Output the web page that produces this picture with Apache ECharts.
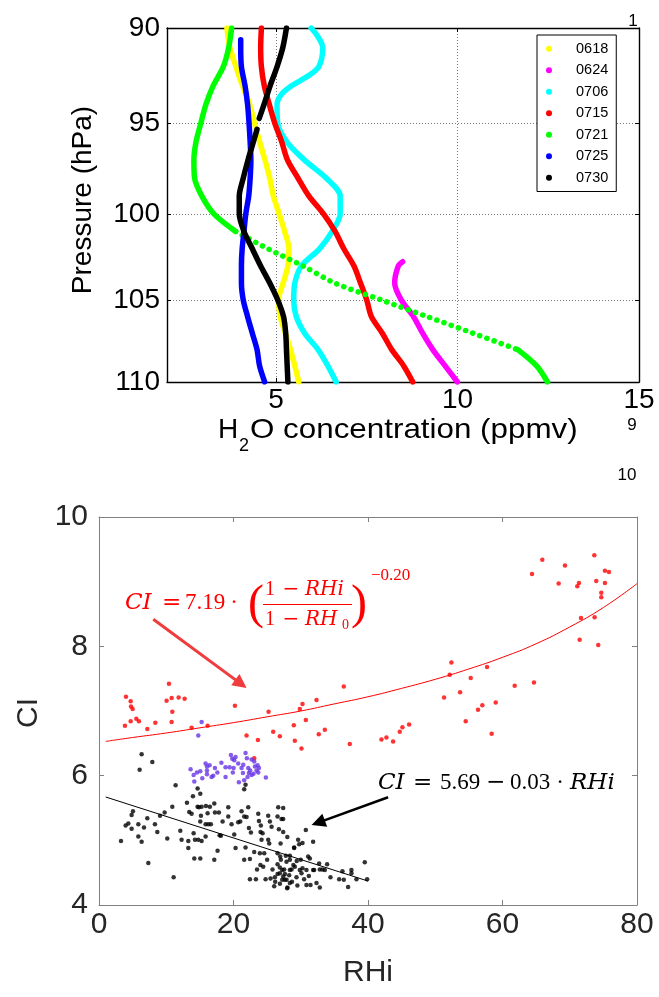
<!DOCTYPE html>
<html><head><meta charset="utf-8">
<script src="https://cdn.jsdelivr.net/npm/echarts@6/dist/echarts.min.js"></script>
<style>html,body{margin:0;padding:0;background:#fff}#c{width:659px;height:997px}</style>
</head><body><div id="c"></div>
<script>
// ---------------- DATA (top panel: H2O profiles, [ppmv, hPa]) ----------------
const profileNames = ['0618','0624','0706','0715','0721','0725','0730'];
const h2o0618 = [[3.65,90],[3.73,91],[3.90,92],[4.08,93],[4.28,94],[4.41,95],[4.55,96],[4.70,97],[4.83,98],[4.93,99],[5.09,100],[5.24,101],[5.36,102],[5.33,103],[5.20,104],[5.07,105],[5.12,106],[5.26,107],[5.40,108],[5.52,109],[5.63,110]];
const h2o0624 = [[8.49,102.75],[8.37,103],[8.27,104],[8.45,105],[8.79,106],[9.04,107],[9.32,108],[9.66,109],[10.00,110]];
const h2o0706 = [[5.97,90],[6.16,90.45],[6.29,91],[6.18,92],[5.87,92.5],[5.43,93],[5.13,93.5],[5.03,94],[5.05,95],[5.30,96],[5.79,97],[6.39,98],[6.77,99],[6.77,100],[6.55,101],[6.20,102],[5.70,103],[5.52,104],[5.49,105],[5.56,106],[5.79,107],[6.16,108],[6.43,109],[6.66,110]];
const h2o0715 = [[4.60,90],[4.58,91],[4.60,92],[4.68,93],[4.82,94],[4.97,95],[5.16,96],[5.32,97],[5.61,98],[5.91,99],[6.31,100],[6.63,101],[6.87,102],[7.15,103],[7.33,104],[7.50,105],[7.63,106],[7.93,107],[8.19,108],[8.52,109],[8.77,110]];
const h2o0721 = [[3.78,90],[3.70,91],[3.55,92],[3.27,93],[3.07,94],[2.93,95],[2.80,96],[2.74,97],[2.76,98],[2.96,99],[3.29,100],[3.89,101],[4.78,102],[5.75,103],[6.62,104],[7.90,105],[9.17,106],[10.43,107],[11.66,108],[12.18,109],[12.48,110]];
const h2o0725 = [[4.03,90.6],[4.03,91],[4.05,92],[4.15,93],[4.22,94],[4.26,95],[4.29,96],[4.31,97],[4.29,98],[4.25,99],[4.17,100],[4.12,101],[4.07,102],[4.05,103],[4.05,104],[4.10,105],[4.22,106],[4.35,107],[4.48,108],[4.55,109],[4.69,110]];
const h2o0730Upper = [[5.29,90],[5.19,91],[5.03,92],[4.84,93],[4.67,94],[4.54,94.73]];
const h2o0730Lower = [[4.48,95.32],[4.38,96],[4.23,97],[4.10,98],[3.99,99],[3.99,100],[4.12,101],[4.35,102],[4.58,103],[4.83,104],[5.05,105],[5.21,106],[5.27,107],[5.29,108],[5.31,109],[5.33,110]];
const pressureTicks = [90,95,100,105,110];
const concTicks = [5,10,15];

// ---------------- DATA (bottom panel: CI vs RHi) ----------------
const ciHigh = [[4.01,7.22],[4.71,7.15],[4.76,7.07],[5.00,7.03],[4.71,6.84],[5.55,6.88],[5.94,6.84],[3.86,6.77],[7.18,6.72],[8.37,6.82],[10.40,7.42],[10.05,7.16],[10.80,7.20],[11.84,7.21],[12.73,7.19],[10.90,6.99],[10.80,6.83],[13.77,6.74],[16.15,6.77],[20.21,7.08],[21.94,6.62],[23.63,6.55],[25.21,6.99],[25.90,6.68],[26.89,6.61],[23.08,6.27],
 [29.12,6.54],[28.97,6.78],[29.86,7.03],[30.26,7.11],[30.75,6.86],[30.11,6.42],[32.34,7.17],[32.68,6.64],[33.58,6.71],[36.40,7.38],[37.29,6.49],[42.00,6.56],[42.74,6.59],[43.73,6.53],[44.72,6.68],[45.12,6.75],[46.11,6.79],[51.31,7.21],[52.15,7.56],[52.40,7.75],[53.69,7.29],[54.53,6.84],[55.27,7.51],[56.36,7.02],
 [57.00,7.09],[57.70,7.68],[58.39,6.65],[58.99,7.13],[61.81,7.39],[64.68,7.44],[64.39,9.12],[65.92,9.34],[68.35,8.97],[69.29,9.25],[71.12,8.93],[71.37,8.98],[71.67,8.44],[71.47,8.10],[73.65,9.41],[73.94,9.01],[73.70,8.45],[74.24,8.02],[75.23,9.17],[75.83,9.15],[75.23,8.98],[74.69,8.83],[74.69,8.76]];
const ciMid = [[15.26,6.83],[14.76,6.62],[13.62,6.10],[14.07,6.01],[14.17,5.91],[14.56,6.05],[15.06,6.07],[15.85,6.19],[16.05,6.14],[16.44,6.16],[16.05,6.08],[16.05,6.02],[15.36,5.96],[16.99,6.00],[17.24,6.12],[16.74,5.98],[18.82,5.98],[18.82,6.13],[19.42,6.13],[19.61,6.32],[19.81,6.26],[20.11,6.24],[20.31,6.29],[20.70,6.19],[20.01,6.12],[21.20,6.12],[20.80,5.90],[21.59,5.93],[21.40,6.04],[21.79,6.35],[21.99,6.27],[22.19,6.12],[22.29,6.04],[22.69,6.25],[22.49,6.08],[22.98,6.03],[23.18,6.14],[23.43,6.08],[23.58,6.16],[23.78,6.12],[23.68,6.05],[22.69,6.01],[24.81,5.97],[22.09,5.98],[21.45,6.17],[23.08,6.22],[19.9,6.05],[17.6,6.05],[18.2,6.2]];
const ciLow = [[6.34,6.33],[6.04,6.09],[7.93,6.21],[11.39,5.85],[14.66,5.80],[15.06,5.72],[13.97,5.68],[13.08,5.58],[10.90,5.52],[9.76,5.43],[9.07,5.38],[7.18,5.34],[5.05,5.45],[4.85,5.39],[4.36,5.26],[3.96,5.23],[4.85,5.18],[5.85,5.25],[6.69,5.20],[5.85,5.06],[6.34,4.98],[3.27,4.99],[8.32,5.25],[8.67,5.13],[10.15,5.03],[12.09,5.15],[12.28,5.01],[11.10,4.43],[7.33,4.65],[13.42,5.44],[13.77,5.41],[14.07,5.11],[13.28,4.99],[13.28,4.88],[14.27,5.01],[14.66,5.52],[14.86,5.51],[15.26,5.52],[15.16,5.38],[15.06,5.29],[15.26,4.99],[14.76,5.01],[14.17,4.72],[15.06,4.72],[15.90,5.53],[16.49,5.52],[17.14,5.57],[17.24,5.43],[16.15,5.42],[15.85,5.25],[16.25,5.25],[16.64,5.25],[15.85,5.06],[17.83,5.43],[17.93,5.08],[18.13,5.07],[17.63,4.84],[17.14,4.70],[19.22,5.51],[18.38,5.29],[19.22,5.37],[19.71,5.25],[20.11,5.09],[20.70,5.28],[21.20,5.45],[21.00,5.29],[21.59,5.37],[22.19,5.51],[21.94,5.36],[22.29,5.19],[22.59,5.12],[20.31,4.88],[21.79,4.89],[21.59,4.70],[22.44,4.71],[21.79,5.86],[21.59,5.79],[23.68,5.41],[23.78,5.30],[24.07,5.23],[24.02,5.13],[24.32,5.11],[25.16,5.38],[25.41,5.29],[25.66,5.21],[25.16,5.01],[25.31,4.95],[24.17,5.01],[23.08,4.82],[23.92,4.80],[24.57,4.80],[24.42,4.59],[24.77,4.40],[25.51,4.41],[26.05,4.29],[26.15,4.43],[26.55,4.48],[26.55,4.80],[26.95,4.75],[26.55,4.63],[26.89,4.58],[27.24,4.54],[27.54,4.55],[27.64,4.48],[27.24,4.39],[27.89,4.39],[28.03,4.27],[28.28,4.46],[28.38,4.34],[28.63,4.55],[28.38,4.70],[29.02,4.89],[26.75,5.17],[27.14,5.33],[26.55,5.37],[26.65,5.51],[22.44,4.40],[23.33,4.40],
 [27.39,5.50],[27.39,5.33],[27.39,5.13],[30.75,5.16],[31.84,4.98],[29.76,4.94],[30.26,4.96],[29.02,4.88],[27.78,4.76],[28.38,4.76],[27.04,4.70],[27.88,4.67],[28.38,4.54],[29.12,4.59],[29.86,4.54],[30.26,4.57],[30.85,4.54],[31.10,4.75],[31.35,4.72],[31.99,4.54],[32.73,4.64],[32.83,4.55],[33.23,4.55],[33.58,4.54],[33.92,4.63],[34.42,4.43],[35.71,4.40],[36.20,4.52],[36.40,4.39],[37.04,4.28],[37.54,4.54],[37.54,4.49],[38.28,4.40],[39.52,4.66],[39.87,4.40],[26.89,4.49],[27.39,4.44],[27.63,4.39],[27.98,4.26],[29.37,4.43],[30.11,4.49],[30.85,4.31],[31.45,4.31],[32.34,4.34],[32.83,4.27],[31.84,4.54],[29.61,5.01],
 [28.7,4.36],[29.5,4.30],[30.5,4.40],[31.2,4.45],[28.9,4.62],[29.4,4.68],[26.2,4.36],[26.9,4.33],[25.8,4.55],[27.0,4.95],[28.0,5.05],[30.0,4.70],[24.0,4.62],[25.0,4.70],[23.5,4.55]];
const fitHigh = [[1,6.53],[5,6.59],[10,6.66],[15,6.74],[20,6.82],[25,6.91],[30,7.00],[35,7.11],[40,7.22],[45,7.35],[50,7.49],[55,7.65],[60,7.83],[65,8.04],[70,8.30],[75,8.60],[80,8.97]];
const fitLow = [[1,5.67],[40,4.37]];
const arrowHigh = [[8.07,8.42],[21.11,7.42]];
const arrowLow = [[42.99,5.667],[32.59,5.274]];

// ---------------- STYLE ----------------
const profColors = {'0618':'#ffff00','0624':'#ff00ff','0706':'#00ffff','0715':'#ff0000','0721':'#00ff00','0725':'#0000ff','0730':'#000000'};
const SANS = '"Liberation Sans", Arial, sans-serif';
const SERIF = '"Liberation Serif", serif';
const DSERIF = '"DejaVu Serif", serif';

function prof(name, data, dotted){
  return {type:'line', name, xAxisIndex:0, yAxisIndex:0, data, showSymbol:false, symbol:'circle', smooth:0.3,
    silent:true, itemStyle:{color:profColors[name]},
    lineStyle:{color:profColors[name], width:5.5, cap:'round', join:'round', type: dotted ? [0.1,7.5] : 'solid'}};
}
const g0721a = h2o0721.filter(d=>d[1]<=101);
const g0721b = h2o0721.filter(d=>d[1]>=101 && d[1]<=108);
const g0721c = h2o0721.filter(d=>d[1]>=108);

function T(x,y,text,font,fill,extra){
  return Object.assign({type:'text', x, y, silent:true, z:100,
    style:{text, font, fill, align:'left', verticalAlign:'middle'}}, extra||{});
}
function TC(x,y,text,font,fill){ const t=T(x,y,text,font,fill); t.style.align='center'; return t; }

const RED='#ff0000';
const graphic = [
  Object.assign(TC(83,200,'Pressure (hPa)','28px '+SANS,'#000'),{rotation:Math.PI/2}),
  T(218,430,'H','28px '+SANS,'#000'),
  T(239,446,'2','18px '+SANS,'#000'),
  Object.assign(T(250,430,'O concentration (ppmv)','28px '+SANS,'#000'),{scaleX:1.12}),
  TC(633,21,'1','17px '+SANS,'#000'),
  TC(632,425,'9','17px '+SANS,'#000'),
  TC(627,475,'10','17px '+SANS,'#000'),
  Object.assign(TC(29,713,'CI','30px '+SANS,'#262626'),{rotation:Math.PI/2}),
  TC(368,973,'RHi','30px '+SANS,'#262626'),
  // red formula
  T(125,603,'CI','italic 23px '+DSERIF,RED),
  T(162,603,'=','23px '+DSERIF,RED),
  T(185,603,'7.19','23px '+SERIF,RED),
  TC(234,603,'·','23px '+SERIF,RED),
  TC(256,605,'(','48px '+SERIF,RED),
  T(265,590,'1','20px '+SERIF,RED),
  TC(291,590,'−','20px '+DSERIF,RED),
  T(305,590,'RHi','italic 20px '+DSERIF,RED),
  {type:'line', silent:true, z:100, shape:{x1:263,y1:604.5,x2:352,y2:604.5}, style:{stroke:RED, lineWidth:1.2}},
  T(265,620,'1','20px '+SERIF,RED),
  TC(291,620,'−','20px '+DSERIF,RED),
  T(305,620,'RH','italic 20px '+DSERIF,RED),
  T(342,625,'0','14px '+SERIF,RED),
  TC(359,605,')','48px '+SERIF,RED),
  T(371,576,'−0.20','17px '+SERIF,RED),
  // black formula
  T(378,783,'CI','italic 23px '+DSERIF,'#000'),
  T(413,783,'=','23px '+DSERIF,'#000'),
  T(440,783,'5.69','23px '+SERIF,'#000'),
  T(486,783,'−','23px '+DSERIF,'#000'),
  T(510,783,'0.03','23px '+SERIF,'#000'),
  TC(560,783,'·','23px '+SERIF,'#000'),
  T(570,783,'RHi','italic 23px '+DSERIF,'#000')
];

const GRAY='#808080', LAB='#262626';
const dotGrid = {show:true, lineStyle:{color:'#555', width:0.8, type:[1,2]}};
const option = {
  animation:false,
  backgroundColor:'#ffffff',
  grid:[
    {left:167, top:28, width:472, height:354, outerBoundsMode:'none', containLabel:false},
    {left:99, top:517, width:538, height:388, outerBoundsMode:'none', containLabel:false}
  ],
  legend:{data:profileNames, orient:'vertical', left:537, top:35, icon:'circle', itemWidth:44, itemHeight:6, itemGap:6,
    padding:[6,8,6,9], borderColor:'#000', borderWidth:1, borderRadius:0, backgroundColor:'#fff', selectedMode:false,
    textStyle:{fontFamily:SANS, fontSize:14.5, color:'#000', lineHeight:15.5}},
  xAxis:[
    {gridIndex:0, type:'value', min:2, max:15, position:'bottom',
      axisLine:{show:true, onZero:false, lineStyle:{color:'#000', width:1.4}},
      axisTick:{show:true, inside:true, length:4, customValues:concTicks, lineStyle:{color:'#000'}},
      axisLabel:{customValues:concTicks, margin:4, fontSize:28, color:'#000', fontFamily:SANS},
      splitLine:{show:false}},
    {gridIndex:0, type:'value', min:2, max:15, position:'top',
      axisLine:{show:true, onZero:false, lineStyle:{color:'#000', width:1.4}},
      axisTick:{show:true, inside:true, length:4, customValues:[5,10], lineStyle:{color:'#000'}},
      axisLabel:{show:false}, splitLine:dotGrid},
    {gridIndex:1, type:'value', min:0, max:80, interval:20, position:'bottom',
      axisLine:{show:true, onZero:false, lineStyle:{color:GRAY, width:1}},
      axisTick:{show:true, inside:true, length:5, lineStyle:{color:GRAY}},
      axisLabel:{margin:5, fontSize:30, color:LAB, fontFamily:SANS},
      splitLine:{show:false}},
    {gridIndex:1, type:'value', min:0, max:80, interval:20, position:'top',
      axisLine:{show:true, onZero:false, lineStyle:{color:GRAY, width:1}},
      axisTick:{show:true, inside:true, length:5, lineStyle:{color:GRAY}},
      axisLabel:{show:false}, splitLine:{show:false}}
  ],
  yAxis:[
    {gridIndex:0, type:'log', min:90, max:110, inverse:true, position:'left',
      axisLine:{show:true, onZero:false, lineStyle:{color:'#000', width:1.4}},
      axisTick:{show:true, inside:true, length:4, customValues:pressureTicks, lineStyle:{color:'#000'}},
      axisLabel:{customValues:pressureTicks, margin:7, fontSize:28, color:'#000', fontFamily:SANS, formatter:v=>String(Math.round(v))},
      splitLine:{show:false}},
    {gridIndex:0, type:'log', min:90, max:110, inverse:true, position:'right',
      axisLine:{show:true, onZero:false, lineStyle:{color:'#000', width:1.4}},
      axisTick:{show:true, inside:true, length:4, customValues:[95,100,105], lineStyle:{color:'#000'}},
      axisLabel:{show:false}, splitLine:dotGrid},
    {gridIndex:1, type:'value', min:4, max:10, interval:2, position:'left',
      axisLine:{show:true, onZero:false, lineStyle:{color:GRAY, width:1}},
      axisTick:{show:true, inside:true, length:5, lineStyle:{color:GRAY}},
      axisLabel:{margin:11, fontSize:30, color:LAB, fontFamily:SANS},
      splitLine:{show:false}},
    {gridIndex:1, type:'value', min:4, max:10, interval:2, position:'right',
      axisLine:{show:true, onZero:false, lineStyle:{color:GRAY, width:1}},
      axisTick:{show:true, inside:true, length:5, lineStyle:{color:GRAY}},
      axisLabel:{show:false}, splitLine:{show:false}}
  ],
  series:[
    prof('0618', h2o0618),
    prof('0624', h2o0624),
    prof('0706', h2o0706),
    prof('0715', h2o0715),
    prof('0721', g0721a),
    prof('0721', g0721b, true),
    prof('0721', g0721c),
    prof('0725', h2o0725),
    prof('0730', h2o0730Upper),
    prof('0730', h2o0730Lower),
    {type:'line', name:'fitHigh', xAxisIndex:2, yAxisIndex:2, data:fitHigh, showSymbol:false, smooth:true, silent:true,
      lineStyle:{color:'#ff0000', width:1}},
    {type:'line', name:'fitLow', xAxisIndex:2, yAxisIndex:2, data:fitLow, showSymbol:false, silent:true,
      lineStyle:{color:'#000', width:1}},
    {type:'scatter', name:'high', xAxisIndex:2, yAxisIndex:2, data:ciHigh, symbolSize:4.5, silent:true,
      itemStyle:{color:'#ff0000'},
      markLine:{silent:true, animation:false, symbol:['none','triangle'], symbolSize:14,
        itemStyle:{color:'#f03c3c'},
        lineStyle:{color:'#f03c3c', width:3, type:'solid'}, label:{show:false},
        data:[[{coord:arrowHigh[0]},{coord:arrowHigh[1]}]]}},
    {type:'scatter', name:'mid', xAxisIndex:2, yAxisIndex:2, data:ciMid, symbolSize:4.5, silent:true,
      itemStyle:{color:'#6633e6'}},
    {type:'scatter', name:'low', xAxisIndex:2, yAxisIndex:2, data:ciLow, symbolSize:4.5, silent:true,
      itemStyle:{color:'#000'},
      markLine:{silent:true, animation:false, symbol:['none','triangle'], symbolSize:14,
        itemStyle:{color:'#000'},
        lineStyle:{color:'#000', width:2.5, type:'solid'}, label:{show:false},
        data:[[{coord:arrowLow[0]},{coord:arrowLow[1]}]]}}
  ],
  graphic
};
const chart = echarts.init(document.getElementById('c'), null, {renderer:'canvas'});
chart.setOption(option);
</script></body></html>
